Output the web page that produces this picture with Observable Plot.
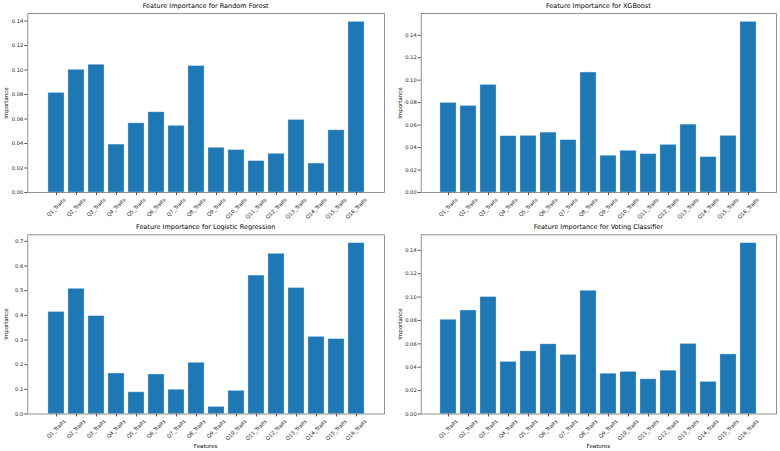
<!DOCTYPE html>
<html>
<head>
<meta charset="utf-8">
<script src="https://cdn.jsdelivr.net/npm/d3@7"></script>
<script src="https://cdn.jsdelivr.net/npm/@observablehq/plot@0.6"></script>
<style>
  html, body { margin: 0; padding: 0; background: #fff; }
  #fig { position: relative; width: 780px; height: 451px; font-family: "DejaVu Sans", sans-serif; color: #000; }
  .panel { position: absolute; }
  .title { position: absolute; font-size: 6.5px; white-space: nowrap; transform: translate(-50%, -50%); }
  .ylab { position: absolute; font-size: 5.5px; white-space: nowrap; transform: translate(-50%, -50%) rotate(-90deg); }
  .xlab { position: absolute; font-size: 5.5px; white-space: nowrap; transform: translate(-50%, -50%); }
</style>
</head>
<body>
<div id="fig"></div>
<script>
const features = ["Q1_Traits","Q2_Traits","Q3_Traits","Q4_Traits","Q5_Traits","Q6_Traits","Q7_Traits","Q8_Traits","Q9_Traits","Q10_Traits","Q11_Traits","Q12_Traits","Q13_Traits","Q14_Traits","Q15_Traits","Q16_Traits"];

const randomForest = [0.0811,0.1001,0.1042,0.0391,0.0564,0.0654,0.0543,0.1031,0.0364,0.0345,0.0255,0.0315,0.0591,0.0236,0.0507,0.1392];
const xgboost      = [0.0796,0.0769,0.0956,0.0500,0.0503,0.0533,0.0465,0.1068,0.0326,0.0370,0.0340,0.0423,0.0604,0.0314,0.0503,0.1518];
const logistic     = [0.413,0.507,0.396,0.164,0.0875,0.160,0.098,0.207,0.028,0.093,0.561,0.649,0.510,0.312,0.303,0.692];
const voting       = [0.0805,0.0885,0.0999,0.0444,0.0535,0.0595,0.0504,0.1053,0.0344,0.0359,0.0296,0.0370,0.0598,0.0273,0.0509,0.1460];

const titles = ["Feature Importance for Random Forest","Feature Importance for XGBoost","Feature Importance for Logistic Regression","Feature Importance for Voting Classifier"];
const smallTicks = [0,0.02,0.04,0.06,0.08,0.10,0.12,0.14];
const largeTicks = [0,0.1,0.2,0.3,0.4,0.5,0.6,0.7];
const yLabel = "Importance";
const xLabel = "Features";

const fig = document.getElementById("fig");
const tickFont = 5.2;

function panel({values, title, ticks, fmt, left, top, width, height, mL, mR, mT, mB, xlabel}) {
  const data = features.map((f, i) => ({feature: f, value: values[i]}));
  const chart = Plot.plot({
    width, height,
    marginLeft: mL, marginRight: mR, marginTop: mT, marginBottom: mB,
    style: {fontFamily: "DejaVu Sans, sans-serif", fontSize: tickFont + "px", color: "#222", background: "transparent", overflow: "visible"},
    x: {type: "band", domain: features, paddingInner: 0.2, paddingOuter: 0.79},
    y: {domain: [0, d3.max(values) * 1.05]},
    marks: [
      Plot.barY(data, {x: "feature", y: "value", fill: "#1f77b4", stroke: "#a8c8e4", strokeWidth: 0.4}),
      Plot.frame({stroke: "#777", strokeWidth: 0.8}),
      Plot.axisY({ticks, tickFormat: fmt, tickSize: 3, tickPadding: 1.5, label: null, stroke: "#555"}),
      Plot.axisX({tickRotate: -45, tickSize: 3, tickPadding: 1.5, label: null, stroke: "#555"})
    ]
  });
  chart.classList.add("panel");
  chart.style.left = left + "px";
  chart.style.top = top + "px";
  fig.appendChild(chart);

  // matplotlib-style rotated labels: bounding box centred under each tick
  const xs = chart.scale("x");
  const axisBottom = height - mB;
  const g = chart.querySelector('g[aria-label="x-axis tick label"]');
  if (g) {
    g.removeAttribute("transform");
    g.setAttribute("text-anchor", "middle");
    g.querySelectorAll("text").forEach(t => {
      const name = t.textContent;
      const cx = xs.apply(name) + xs.bandwidth / 2;
      const L = t.getComputedTextLength();
      const h = (L + tickFont * 1.1) * Math.SQRT1_2;
      const cy = axisBottom + 4.7 + h / 2;
      t.removeAttribute("y");
      t.removeAttribute("dy");
      t.setAttribute("dominant-baseline", "central");
      t.setAttribute("transform", `translate(${cx},${cy}) rotate(-45)`);
    });
  }

  const plotLeft = left + mL, plotRight = left + width - mR;
  const tt = document.createElement("div");
  tt.className = "title";
  tt.textContent = title;
  tt.style.left = ((plotLeft + plotRight) / 2) + "px";
  tt.style.top = (top + mT - 7) + "px";
  fig.appendChild(tt);

  const yl = document.createElement("div");
  yl.className = "ylab";
  yl.textContent = yLabel;
  yl.style.left = (plotLeft - 21) + "px";
  yl.style.top = (top + mT + (height - mT - mB) / 2) + "px";
  fig.appendChild(yl);

  if (xlabel) {
    const xl = document.createElement("div");
    xl.className = "xlab";
    xl.textContent = xLabel;
    xl.style.left = ((plotLeft + plotRight) / 2) + "px";
    xl.style.top = "445.5px";
    fig.appendChild(xl);
  }
}

const f2 = d3.format(".2f"), f1 = d3.format(".1f");
panel({values: randomForest, title: titles[0], ticks: smallTicks, fmt: f2, left: 0, top: 0, width: 390, height: 225, mL: 27.3, mR: 6, mT: 13, mB: 33, xlabel: false});
panel({values: xgboost, title: titles[1], ticks: smallTicks, fmt: f2, left: 390, top: 0, width: 390, height: 225, mL: 30.7, mR: 4, mT: 13, mB: 33, xlabel: false});
panel({values: logistic, title: titles[2], ticks: largeTicks, fmt: f1, left: 0, top: 225, width: 390, height: 226, mL: 27.3, mR: 6, mT: 9.3, mB: 37.5, xlabel: true});
panel({values: voting, title: titles[3], ticks: smallTicks, fmt: f2, left: 390, top: 225, width: 390, height: 226, mL: 30.7, mR: 4, mT: 9.3, mB: 37.5, xlabel: true});
</script>
</body>
</html>
